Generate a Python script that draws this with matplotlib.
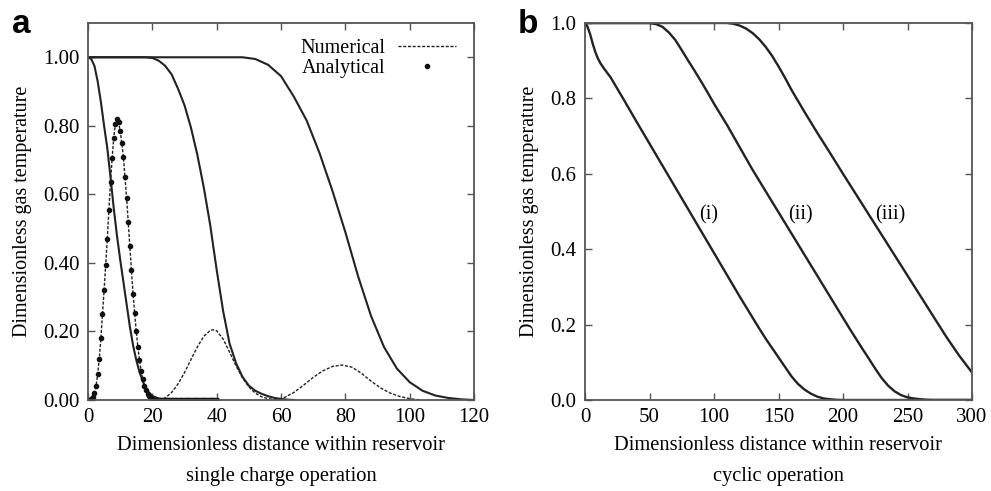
import matplotlib.pyplot as plt
import numpy as np

plt.rcParams['font.family'] = 'Liberation Serif'

# ---- panel a : single charge ----
front1_x = [0, 1, 2, 3, 4, 5, 6, 7, 8, 9, 10, 11, 12, 13, 14, 15, 16, 17, 18, 19, 20, 22, 24, 26]
front1_y = [1.0, 0.995, 0.975, 0.93, 0.87, 0.80, 0.735, 0.65, 0.56, 0.48, 0.41, 0.345, 0.28, 0.215,
            0.16, 0.117, 0.082, 0.055, 0.035, 0.021, 0.012, 0.004, 0.001, 0.0]

front2_x = [0, 18, 20, 22, 24, 26, 28, 30, 32, 34, 36, 38, 40, 42, 44, 46, 48, 50, 52, 54, 56, 58, 60, 62, 64]
front2_y = [1.0, 1.0, 0.998, 0.99, 0.975, 0.95, 0.908, 0.86, 0.795, 0.715, 0.62, 0.51, 0.38, 0.26,
            0.165, 0.108, 0.068, 0.042, 0.027, 0.018, 0.011, 0.006, 0.003, 0.001, 0.0]

front3_x = [0, 48, 52, 56, 60, 64, 68, 72, 76, 80, 84, 88, 92, 96, 100, 104, 108, 112, 116, 120]
front3_y = [1.0, 1.0, 0.995, 0.978, 0.945, 0.885, 0.815, 0.72, 0.61, 0.49, 0.36, 0.245, 0.155,
            0.092, 0.052, 0.027, 0.013, 0.006, 0.002, 0.0]

# analytical points (step 0.5 from 0 to 40), numerical curve 1 coincides
analytic_x = list(np.arange(0, 40.01, 0.5))
analytic_y = [0.0, 0.001, 0.003, 0.008, 0.02, 0.04, 0.075, 0.12, 0.18, 0.25, 0.32, 0.395, 0.47,
              0.555, 0.635, 0.705, 0.765, 0.805, 0.82, 0.81, 0.785, 0.75, 0.71, 0.65, 0.59, 0.52,
              0.45, 0.38, 0.31, 0.255, 0.2, 0.155, 0.117, 0.085, 0.06, 0.042, 0.028, 0.018,
              0.011, 0.007, 0.004] + [0.0] * 40

peak2_x = [22, 24, 26, 28, 30, 32, 34, 36, 38, 39, 40, 42, 44, 46, 48, 50, 52, 54, 56, 58, 60]
peak2_y = [0.0, 0.006, 0.022, 0.047, 0.08, 0.118, 0.155, 0.186, 0.203, 0.205, 0.202, 0.178, 0.14,
           0.1, 0.065, 0.038, 0.02, 0.009, 0.004, 0.001, 0.0]

peak3_x = [58, 61, 64, 67, 70, 73, 76, 79, 82, 85, 88, 91, 94, 97, 100, 103]
peak3_y = [0.0, 0.007, 0.022, 0.043, 0.066, 0.085, 0.098, 0.102, 0.096, 0.078, 0.055, 0.035,
           0.02, 0.01, 0.004, 0.0]

# ---- panel b : cyclic ----
cyc1_x = [0, 2, 4, 6, 8, 10, 12, 15, 20, 25, 30, 40, 50, 60, 70, 80, 90, 100, 110, 120, 130,
          135, 140, 145, 150, 155, 160, 165, 170, 175, 180, 185, 190, 195, 200, 300]
cyc1_y = [1.0, 0.99, 0.97, 0.945, 0.923, 0.906, 0.893, 0.878, 0.855, 0.826, 0.797, 0.738, 0.68,
          0.622, 0.564, 0.506, 0.448, 0.39, 0.332, 0.274, 0.218, 0.19, 0.163, 0.138, 0.113, 0.088,
          0.063, 0.043, 0.028, 0.017, 0.009, 0.004, 0.002, 0.0005, 0.0, 0.0]

cyc2_x = [0, 50, 55, 60, 65, 70, 75, 80, 85, 90, 95, 100, 110, 120, 130, 140, 150, 160, 170, 180,
          190, 200, 205, 210, 215, 220, 225, 230, 235, 240, 245, 250, 255, 260, 265, 270, 300]
cyc2_y = [1.0, 1.0, 0.997, 0.99, 0.975, 0.955, 0.928, 0.9, 0.873, 0.845, 0.816, 0.786, 0.73,
          0.67, 0.61, 0.554, 0.498, 0.442, 0.386, 0.33, 0.274, 0.218, 0.19, 0.163, 0.136, 0.11,
          0.083, 0.058, 0.038, 0.023, 0.013, 0.007, 0.004, 0.002, 0.0005, 0.0, 0.0]

cyc3_x = [0, 110, 115, 120, 125, 130, 135, 140, 145, 150, 155, 160, 170, 180, 190, 200, 210, 220,
          230, 240, 250, 260, 270, 280, 290, 300]
cyc3_y = [1.0, 1.0, 0.998, 0.993, 0.985, 0.973, 0.957, 0.937, 0.913, 0.885, 0.855, 0.823, 0.765,
          0.709, 0.655, 0.6, 0.546, 0.492, 0.438, 0.384, 0.33, 0.276, 0.222, 0.168, 0.118, 0.073]

case_labels = ['(i)', '(ii)', '(iii)']
case_label_x = [96, 167, 237]

fig = plt.figure(figsize=(9.91, 4.91), dpi=100)
axa = fig.add_axes([88 / 991, 91 / 491, 386 / 991, 377 / 491])
axb = fig.add_axes([585 / 991, 91 / 491, 387 / 991, 377 / 491])

lc = '#222222'
dash = (0, (2.2, 1.2))

for fx, fy in [(front1_x, front1_y), (front2_x, front2_y), (front3_x, front3_y)]:
    axa.plot(fx, fy, color=lc, lw=1.5)
axa.plot(analytic_x[:45], analytic_y[:45], color=lc, lw=1.0, ls=dash, label='Numerical')
axa.plot(peak2_x, peak2_y, color=lc, lw=1.0, ls=dash)
axa.plot(peak3_x, peak3_y, color=lc, lw=1.0, ls=dash)
axa.plot(analytic_x, analytic_y, 'o', color='#111111', ms=3.0, ls='none', label='Analytical')

axa.set_xlim(0, 120)
axa.set_ylim(0, 1.1)
axa.set_xticks(np.arange(0, 121, 20))
axa.set_yticks(np.arange(0, 1.01, 0.2))
axa.set_yticklabels(['%.2f' % v for v in np.arange(0, 1.01, 0.2)])
axa.set_xlabel('Dimensionless distance within reservoir\nsingle charge operation',
               fontsize=14.8, linespacing=1.85, labelpad=6)
axa.set_ylabel('Dimensionless gas temperature', fontsize=14.5, labelpad=8)
axa.legend(loc='upper right', bbox_to_anchor=(0.985, 0.99), frameon=False, markerfirst=False,
           fontsize=14.5, handlelength=2.9, numpoints=1, labelspacing=0.05, handletextpad=0.6,
           borderaxespad=0.2)

for cx, cy in [(cyc1_x, cyc1_y), (cyc2_x, cyc2_y), (cyc3_x, cyc3_y)]:
    axb.plot(cx, cy, color=lc, lw=1.7)
for lab, lx in zip(case_labels, case_label_x):
    axb.text(lx, 0.49, lab, fontsize=14.5, ha='center', va='center')

axb.set_xlim(0, 300)
axb.set_ylim(0, 1.0)
axb.set_xticks(np.arange(0, 301, 50))
axb.set_yticks(np.arange(0, 1.01, 0.2))
axb.set_yticklabels(['%.1f' % v for v in np.arange(0, 1.01, 0.2)])
axb.set_xlabel('Dimensionless distance within reservoir\ncyclic operation',
               fontsize=14.8, linespacing=1.85, labelpad=6)
axb.set_ylabel('Dimensionless gas temperature', fontsize=14.5, labelpad=8)

for ax in (axa, axb):
    ax.tick_params(direction='in', top=True, right=True, length=5, width=1, labelsize=15,
                   color='#555555', pad=6)
    for s in ax.spines.values():
        s.set_color('#555555')
        s.set_linewidth(1.3)

fig.text(12 / 991, 1 - 33 / 491, 'a', fontsize=24, fontweight='bold', family='Liberation Sans')
fig.text(518 / 991, 1 - 33 / 491, 'b', fontsize=24, fontweight='bold', family='Liberation Sans')

fig.savefig('out.png', dpi=100)
